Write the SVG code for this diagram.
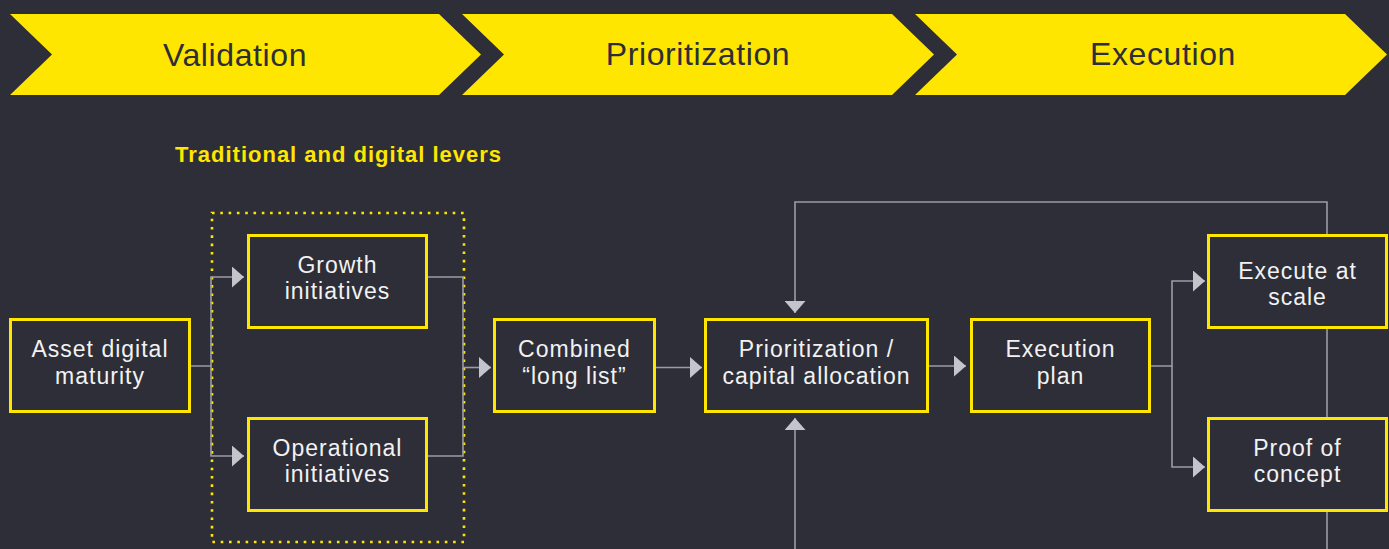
<svg xmlns="http://www.w3.org/2000/svg" width="1389" height="549" viewBox="0 0 1389 549">
<defs>
<style>
.chev{fill:#ffe600}
.chevt{font-family:"Liberation Sans",Arial,sans-serif;font-size:32px;letter-spacing:0.6px;fill:#2e2e38;text-anchor:middle}
.box{fill:#2e2e38;stroke:#ffe600;stroke-width:3}
.nt{font-family:"Liberation Sans",Arial,sans-serif;font-size:23px;letter-spacing:1px;fill:#f2f2f2;text-anchor:middle}
.conn{fill:none;stroke:#9c9ca8;stroke-width:1.6}
.title{font-family:"Liberation Sans",Arial,sans-serif;font-size:22px;font-weight:bold;letter-spacing:1px;fill:#ffe600}
</style>
<marker id="ah" viewBox="0 0 12 21" refX="12" refY="10.5" markerWidth="12" markerHeight="21" markerUnits="userSpaceOnUse" orient="auto">
<path d="M0,0 L12,10.5 L0,21 z" fill="#c4c4cd"/>
</marker>
</defs>
<rect width="1389" height="549" fill="#2e2e38"/>

<g id="phases">
<g id="phase-validation">
<polygon class="chev" points="10,14 439,14 481,54.5 439,95 10,95 52,54.5"/>
<text class="chevt" x="235" y="66">Validation</text>
</g>
<g id="phase-prioritization">
<polygon class="chev" points="462,14 892,14 934,54.5 892,95 462,95 504,54.5"/>
<text class="chevt" x="698" y="65">Prioritization</text>
</g>
<g id="phase-execution">
<polygon class="chev" points="915,14 1345,14 1387,54.5 1345,95 915,95 957,54.5"/>
<text class="chevt" x="1163" y="65">Execution</text>
</g>
</g>

<g id="levers-group">
<text class="title" x="175" y="162">Traditional and digital levers</text>
<rect x="212" y="213" width="252" height="329" fill="none" stroke="#ffe600" stroke-width="2.6" stroke-dasharray="2.6 5.7"/>
</g>

<g id="connectors">
<path class="conn" d="M190,366 H211 V277 H244" marker-end="url(#ah)"/>
<path class="conn" d="M211,366 V456 H244" marker-end="url(#ah)"/>
<path class="conn" d="M427,277 H463 V456 H427"/>
<path class="conn" d="M463,367.5 H491" marker-end="url(#ah)"/>
<path class="conn" d="M654,367.5 H702" marker-end="url(#ah)"/>
<path class="conn" d="M928,366 H966" marker-end="url(#ah)"/>
<path class="conn" d="M1150,366 H1172 V281 H1205" marker-end="url(#ah)"/>
<path class="conn" d="M1172,366 V467 H1205" marker-end="url(#ah)"/>
<path class="conn" d="M1327,235 V202 H795 V313" marker-end="url(#ah)"/>
<path class="conn" d="M1327,328 V418"/>
<path class="conn" d="M1327,511 V549"/>
<path class="conn" d="M795,549 V418" marker-end="url(#ah)"/>
</g>

<g id="asset-digital-maturity">
<rect class="box" x="10.5" y="319.5" width="179" height="92"/>
<text class="nt" x="100" y="357">Asset digital</text>
<text class="nt" x="100" y="384">maturity</text>
</g>
<g id="growth-initiatives">
<rect class="box" x="248.5" y="235.5" width="178" height="92"/>
<text class="nt" x="337.5" y="273">Growth</text>
<text class="nt" x="337.5" y="299">initiatives</text>
</g>
<g id="operational-initiatives">
<rect class="box" x="248.5" y="418.5" width="178" height="92"/>
<text class="nt" x="337.5" y="456">Operational</text>
<text class="nt" x="337.5" y="482">initiatives</text>
</g>
<g id="combined-long-list">
<rect class="box" x="494.5" y="319.5" width="160" height="92"/>
<text class="nt" x="574.5" y="357">Combined</text>
<text class="nt" x="574.5" y="384">“long list”</text>
</g>
<g id="prioritization-capital-allocation">
<rect class="box" x="705.5" y="319.5" width="222" height="92"/>
<text class="nt" x="816.5" y="357">Prioritization /</text>
<text class="nt" x="816.5" y="384">capital allocation</text>
</g>
<g id="execution-plan">
<rect class="box" x="971.5" y="319.5" width="178" height="92"/>
<text class="nt" x="1060.5" y="357">Execution</text>
<text class="nt" x="1060.5" y="384">plan</text>
</g>
<g id="execute-at-scale">
<rect class="box" x="1208.5" y="235.5" width="178" height="92"/>
<text class="nt" x="1297.5" y="279">Execute at</text>
<text class="nt" x="1297.5" y="305">scale</text>
</g>
<g id="proof-of-concept">
<rect class="box" x="1208.5" y="418.5" width="178" height="92"/>
<text class="nt" x="1297.5" y="456">Proof of</text>
<text class="nt" x="1297.5" y="482">concept</text>
</g>
</svg>
